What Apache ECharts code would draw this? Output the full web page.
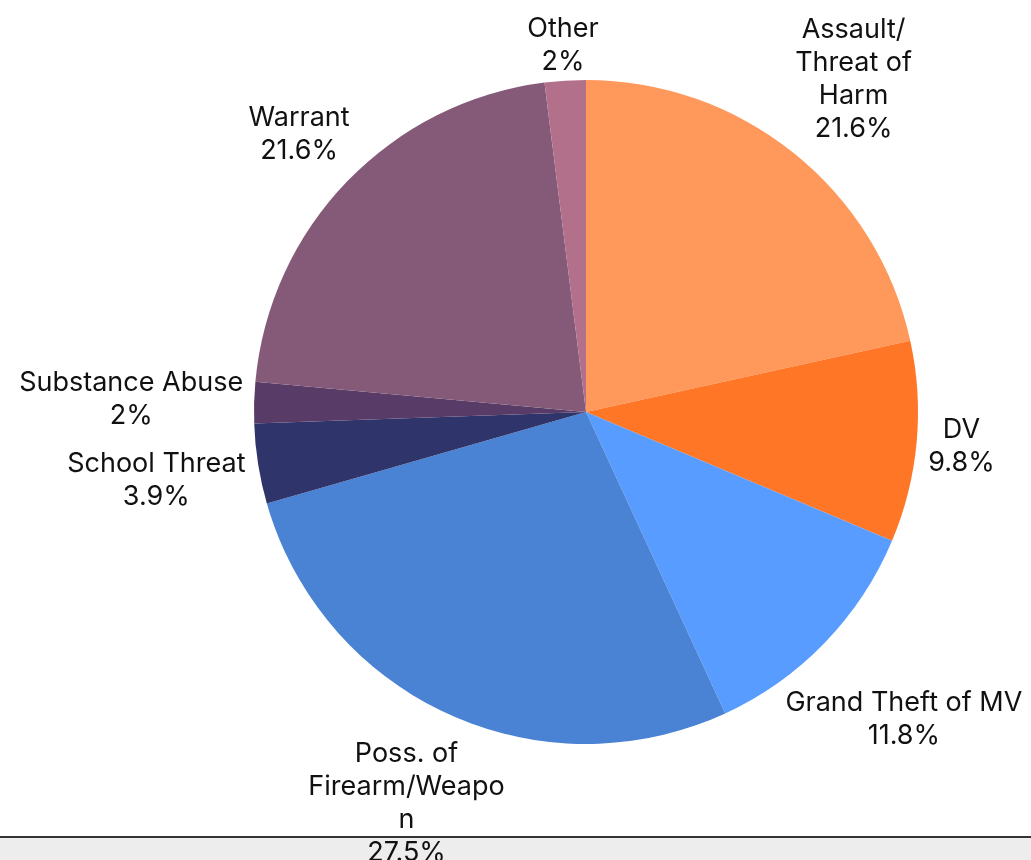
<!DOCTYPE html>
<html>
<head>
<meta charset="utf-8">
<title>Pie</title>
<script src="https://cdn.jsdelivr.net/npm/echarts@6/dist/echarts.min.js"></script>
<style>
  html, body { margin: 0; padding: 0; background: #fff; }
  #main { width: 1031px; height: 860px; }
</style>
</head>
<body>
<div id="main"></div>
<script>
// slices, clockwise from 12 o'clock
var categories = ['Assault/Threat of Harm', 'DV', 'Grand Theft of MV', 'Poss. of Firearm/Weapon', 'School Threat', 'Substance Abuse', 'Warrant', 'Other'];
// how the label text wraps in the picture
var labelNames = ['Assault/\nThreat of\nHarm', 'DV', 'Grand Theft of MV', 'Poss. of\nFirearm/Weapo\nn', 'School Threat', 'Substance Abuse', 'Warrant', 'Other'];
var percents = [21.6, 9.8, 11.8, 27.5, 3.9, 2, 21.6, 2];
var colors = ['#ff995b', '#ff7627', '#599cff', '#4a82d4', '#2f356b', '#583b67', '#855a79', '#b2708a'];

var CX = 586, CY = 412, R = 332, GAP = 1, PADX = 9;
var total = percents.reduce(function (a, b) { return a + b; }, 0);

// mid angle of each slice (screen direction)
var dirs = [];
var acc = 0;
percents.forEach(function (v) {
  var mid = (acc + v / 2) / total * 2 * Math.PI;
  dirs.push([Math.sin(mid), -Math.cos(mid)]);
  acc += v;
});

// push the label box outward until it clears the pie by GAP
function placeLabel(i, w, h) {
  var d = dirs[i];
  var s = R;
  w += PADX * 2;
  for (var k = 0; k < 400; k++) {
    var x = d[0] * s, y = d[1] * s;
    var nx = Math.max(x - w / 2, Math.min(0, x + w / 2));
    var ny = Math.max(y - h / 2, Math.min(0, y + h / 2));
    if (Math.sqrt(nx * nx + ny * ny) >= R + GAP) break;
    s += 1;
  }
  return [CX + d[0] * s, CY + d[1] * s];
}

var chart = echarts.init(document.getElementById('main'));

var option = {
  animation: false,
  color: colors,
  graphic: [
    { type: 'rect', z: 0, shape: { x: 0, y: 838, width: 1031, height: 22 }, style: { fill: '#ededed' } },
    { type: 'line', z: 0, shape: { x1: 0, y1: 837, x2: 1031, y2: 837 }, style: { stroke: '#333', lineWidth: 2 } }
  ],
  series: [{
    type: 'pie',
    center: [CX, CY],
    radius: R,
    startAngle: 90,
    clockwise: true,
    data: categories.map(function (c, i) { return { name: c, value: percents[i] }; }),
    itemStyle: { borderWidth: 0 },
    labelLine: { show: false },
    label: {
      show: true,
      position: 'outside',
      fontFamily: 'Inter',
      fontSize: 27,
      lineHeight: 33,
      color: '#111',
      align: 'center',
      overflow: 'none',
      formatter: function (p) {
        return labelNames[p.dataIndex] + '\n' + p.value + '%';
      }
    },
    labelLayout: function (p) {
      var pos = placeLabel(p.dataIndex, p.labelRect.width, p.labelRect.height);
      return { x: pos[0], y: pos[1], align: 'center', verticalAlign: 'middle' };
    }
  }]
};

chart.setOption(option);
</script>
</body>
</html>
